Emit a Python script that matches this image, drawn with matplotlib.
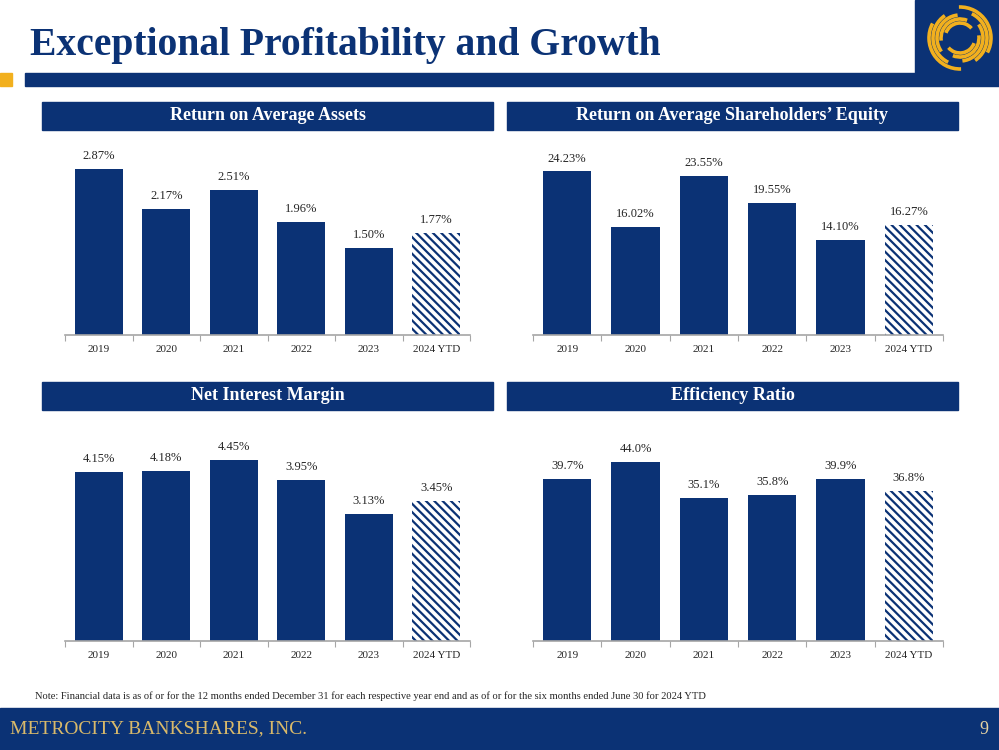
import matplotlib
matplotlib.use("Agg")
import matplotlib.pyplot as plt
from matplotlib.patches import Rectangle, Arc

W, H = 999, 750
NAVY = "#0b3275"
GOLD = "#f2b01e"
GRAY = "#a6a6a6"

# data
years = ["2019", "2020", "2021", "2022", "2023", "2024 YTD"]
roaa = [2.87, 2.17, 2.51, 1.96, 1.50, 1.77]
roae = [24.23, 16.02, 23.55, 19.55, 14.10, 16.27]
nim = [4.15, 4.18, 4.45, 3.95, 3.13, 3.45]
eff = [39.7, 44.0, 35.1, 35.8, 39.9, 36.8]

titles = ["Return on Average Assets", "Return on Average Shareholders\u2019 Equity",
          "Net Interest Margin", "Efficiency Ratio"]

plt.rcParams["font.family"] = ["Liberation Serif", "DejaVu Serif"]
plt.rcParams["hatch.linewidth"] = 1.6

fig = plt.figure(figsize=(W / 100, H / 100), dpi=100)


def px_axes(x0, y0, x1, y1):
    return fig.add_axes([x0 / W, 1 - y1 / H, (x1 - x0) / W, (y1 - y0) / H])


def px_rect(x0, y0, x1, y1, color):
    fig.patches.append(Rectangle((x0 / W, 1 - y1 / H), (x1 - x0) / W, (y1 - y0) / H,
                                 transform=fig.transFigure, color=color, zorder=0))


# header
fig.text(30 / W, 1 - 46 / H, "Exceptional Profitability and Growth", fontsize=28.5,
         fontweight="bold", color=NAVY, va="center", ha="left")
px_rect(25, 73, 999, 86, NAVY)
px_rect(0, 73, 12, 86, GOLD)
px_rect(915, 0, 999, 73, NAVY)

# logo swirl (pixel units, centre of the box)
logo = px_axes(915, 0, 999, 73)
logo.set_zorder(3)
logo.set_xlim(-42, 42)
logo.set_ylim(-36.5, 36.5)
logo.axis("off")
cx, cy = 3, -1.5
for k, r in enumerate([15, 19, 23, 27, 31]):
    for base in (0, 180):
        a0 = base + 40 + k * 28
        logo.add_patch(Arc((cx, cy), 2 * r, 2 * r, theta1=a0, theta2=a0 + 120,
                           color=GOLD, lw=2.6))

# panel headers
for (x0, y0, x1, y1), t in zip([(42, 102, 493, 130), (507, 102, 958, 130),
                                (42, 382, 493, 410), (507, 382, 958, 410)], titles):
    px_rect(x0, y0, x1, y1, NAVY)
    fig.text((x0 + x1) / 2 / W, 1 - (y0 + y1) / 2 / H, t, color="white", fontsize=13,
             fontweight="bold", ha="center", va="center")


def bar_panel(box, vals, ymax, fmt):
    ax = px_axes(*box)
    ax.set_zorder(2)
    x = range(len(years))
    colors = [NAVY] * (len(vals) - 1) + ["white"]
    bars = ax.bar(x, vals, width=0.71, color=colors, edgecolor=NAVY, linewidth=0)
    bars[-1].set_hatch("\\\\\\\\")
    for xi, v in zip(x, vals):
        ax.annotate(fmt % v, (xi, v), xytext=(0, 5), textcoords="offset points",
                    ha="center", va="bottom", fontsize=9, color="#262626")
    ax.set_xlim(-0.5, len(years) - 0.5)
    ax.set_ylim(0, ymax)
    ax.set_xticks([i - 0.5 for i in range(len(years) + 1)])
    ax.set_xticklabels([])
    ax.set_xticks(list(x), minor=True)
    ax.set_xticklabels(years, minor=True, fontsize=8, color="#262626")
    ax.tick_params(axis="x", which="major", length=4, color=GRAY, direction="out")
    ax.tick_params(axis="x", which="minor", length=0, pad=7)
    ax.set_yticks([])
    for s in ["top", "left", "right"]:
        ax.spines[s].set_visible(False)
    ax.spines["bottom"].set_color(GRAY)
    ax.spines["bottom"].set_linewidth(1.2)
    ax.patch.set_alpha(0)
    return ax


bar_panel((65, 145, 470, 335), roaa, 190 / 57.9, "%.2f%%")
bar_panel((533, 145, 943, 335), roae, 190 / 6.75, "%.2f%%")
bar_panel((65, 440, 470, 641), nim, 201 / 40.7, "%.2f%%")
bar_panel((533, 440, 943, 641), eff, 201 / 4.07, "%.1f%%")

# note and footer
fig.text(35 / W, 1 - 696 / H,
         "Note: Financial data is as of or for the 12 months ended December 31 for each respective "
         "year end and as of or for the six months ended June 30 for 2024 YTD",
         fontsize=7.6, color="#262626", va="center")
px_rect(0, 708, 999, 750, NAVY)
fig.text(10 / W, 1 - 729 / H, "METROCITY BANKSHARES, INC.", fontsize=14, color="#d9b96a",
         va="center", ha="left")
fig.text(988 / W, 1 - 729 / H, "9", fontsize=13, color="#e6d3a3", va="center", ha="right")

fig.savefig("out.png", dpi=100)
